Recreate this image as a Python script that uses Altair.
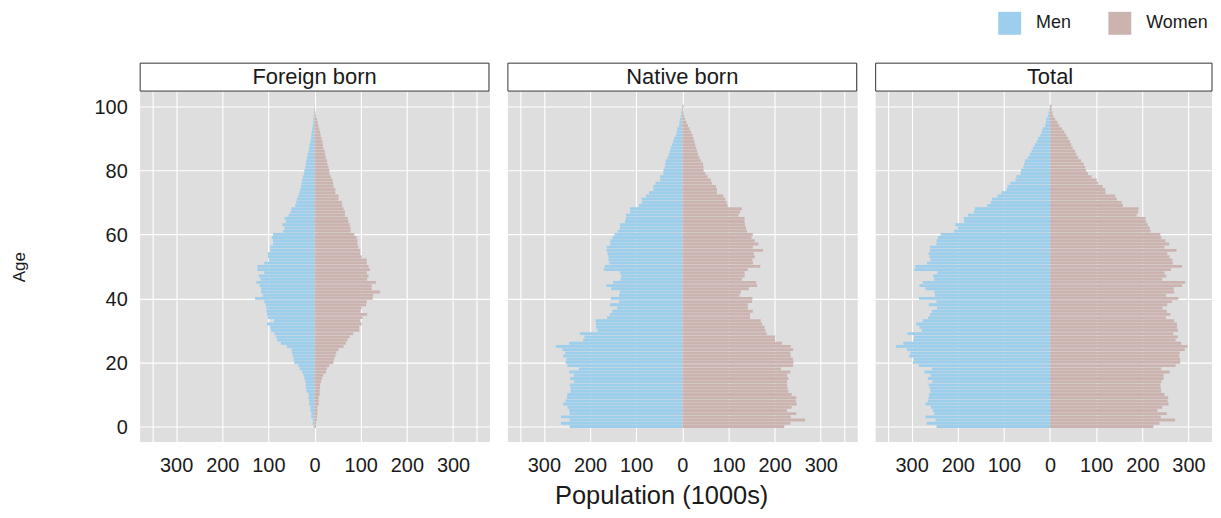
import altair as alt
import pandas as pd

# ---------------- data (population in 1000s, ages 0..100) ----------------
ages = list(range(101))

foreign_men = [2, 4, 4, 7, 7, 9, 9, 12, 12, 13,
               13, 17, 19, 19, 20, 22, 24, 27, 32, 35,
               44, 45, 47, 49, 50, 60, 73, 81, 83, 87,
               94, 96, 103, 88, 101, 103, 104, 104, 106, 109,
               129, 112, 116, 116, 119, 126, 117, 121, 109, 124,
               124, 109, 99, 101, 101, 96, 96, 90, 90, 92,
               90, 68, 65, 70, 62, 65, 56, 52, 50, 42,
               40, 38, 35, 33, 31, 29, 28, 27, 25, 23,
               22, 20, 19, 18, 16, 15, 13, 12, 11, 9,
               8, 7, 6, 5, 4, 3, 3, 1.5, 1, 0.5, 0.3]

foreign_women = [3, 3, 5, 5, 6, 6, 6, 9, 9, 9,
                 11, 11, 12, 12, 14, 16, 19, 25, 27, 32,
                 41, 42, 45, 47, 52, 63, 68, 71, 76, 84,
                 97, 97, 102, 99, 104, 114, 100, 102, 112, 113,
                 126, 127, 142, 124, 124, 133, 114, 117, 113, 120,
                 117, 113, 113, 102, 99, 99, 95, 93, 93, 91,
                 86, 78, 78, 76, 73, 72, 66, 66, 63, 60,
                 59, 52, 52, 45, 45, 41, 40, 39, 35, 32,
                 32, 30, 28, 27, 24, 23, 22, 19, 18, 17,
                 15, 13, 12, 10, 8, 7, 5, 3, 2, 1, 0.5]

native_men = [244, 263, 244, 263, 244, 245, 249, 258, 253, 250,
              249, 242, 242, 244, 235, 243, 235, 245, 224, 249,
              253, 251, 258, 254, 260, 274, 245, 215, 212, 222,
              184, 187, 187, 188, 163, 157, 152, 141, 157, 137,
              155, 137, 135, 154, 164, 150, 134, 132, 135, 170,
              168, 158, 160, 160, 162, 164, 164, 156, 156, 151,
              147, 140, 135, 135, 124, 122, 122, 113, 113, 94,
              88, 88, 79, 72, 63, 63, 58, 48, 48, 41,
              41, 38, 37, 36, 32, 29, 27, 25, 22, 20,
              18, 14, 12, 11, 7, 6, 5, 3, 2, 1, 0.5]

native_women = [221, 234, 266, 235, 247, 227, 237, 248, 246, 247,
                237, 230, 228, 227, 227, 230, 227, 234, 214, 240,
                241, 240, 235, 234, 240, 235, 216, 201, 201, 183,
                180, 178, 173, 170, 147, 147, 153, 142, 142, 151,
                152, 124, 127, 144, 162, 160, 129, 135, 135, 142,
                169, 153, 152, 157, 155, 175, 153, 165, 157, 150,
                153, 140, 138, 136, 135, 135, 122, 125, 129, 98,
                96, 93, 89, 75, 75, 73, 64, 62, 55, 50,
                46, 46, 45, 40, 37, 34, 32, 30, 28, 26,
                24, 22, 19, 16, 12, 9, 6, 4, 3, 2, 3]

panels = ["Foreign born", "Native born", "Total"]
sexes = ["Men", "Women"]
sex_colors = ["#9dceeb", "#cbb4b0"]
x_ticks = [-350, -300, -200, -100, 0, 100, 200, 300, 350]
y_ticks = [0, 20, 40, 60, 80, 100]

total_men = [f + n for f, n in zip(foreign_men, native_men)]
total_women = [f + n for f, n in zip(foreign_women, native_women)]

rows = []
for name, men, women in [("Foreign born", foreign_men, foreign_women),
                         ("Native born", native_men, native_women),
                         ("Total", total_men, total_women)]:
    for a, m, w in zip(ages, men, women):
        rows.append({"panel": name, "sex": "Men", "age": a, "value": -m})
        rows.append({"panel": name, "sex": "Women", "age": a, "value": w})
df = pd.DataFrame(rows)

# ---------------- layout constants ----------------
W = 351          # panel width (px)
W3 = 338         # last panel is cut at the right edge of the picture
H = 380          # strip + panel height (px)
STRIP = 28       # strip height
TOP = 29         # where the grey plotting region starts
PX_PER_YEAR = (H - TOP) / (104.6 + 4.66)
Y_DOMAIN = [-4.66, 104.6 + TOP / PX_PER_YEAR]
PX_PER_UNIT = W / 758
FONT = "Liberation Sans"
TXT = "#1a1a1a"

legend = alt.Legend(title=None, orient="none", legendX=861.5, legendY=-51,
                    direction="horizontal", symbolType="square", symbolSize=529,
                    symbolStrokeWidth=0, labelFontSize=18, labelOffset=15,
                    columnPadding=36.5, padding=0, labelColor=TXT, labelFont=FONT)


def make_panel(idx, name, width, xdom):
    label_expr = "abs(datum.value) == 350 ? '' : format(abs(datum.value), 'd')"
    if idx == 1:
        xaxis = alt.Axis(values=x_ticks, labelExpr=label_expr, grid=True,
                         gridColor="white", gridWidth=1.1, ticks=False, domain=False,
                         labelFontSize=20, labelPadding=14.5, labelColor=TXT,
                         title="Population (1000s)", titleFontSize=25.5,
                         titleFontWeight="normal", titleColor=TXT,
                         titleX=154.3, titleY=62.5, titleBaseline="alphabetic",
                         titleAlign="center")
    else:
        xaxis = alt.Axis(values=x_ticks, labelExpr=label_expr, grid=True,
                         gridColor="white", gridWidth=1.1, ticks=False, domain=False,
                         labelFontSize=20, labelPadding=14.5, labelColor=TXT,
                         title=None)
    if idx == 0:
        yaxis = alt.Axis(values=y_ticks, grid=True, gridColor="white", gridWidth=1.1,
                         ticks=False, domain=False, labelFontSize=20,
                         labelPadding=12.4, labelColor=TXT, labelOffset=1,
                         title="Age", titleFontSize=17, titleFontWeight="normal",
                         titleColor=TXT, titleAngle=270, titleX=-115.7,
                         titleY=204.7, titleBaseline="alphabetic",
                         titleAlign="center")
    else:
        yaxis = alt.Axis(values=y_ticks, grid=True, gridColor="white", gridWidth=1.1,
                         ticks=False, domain=False, labels=False, title=None)

    bars = alt.Chart(df).transform_filter(
        alt.datum.panel == name
    ).transform_calculate(
        y0="datum.age - 0.45", y1="datum.age + 0.45", zero="0"
    ).mark_rect(strokeWidth=0).encode(
        x=alt.X("value:Q", scale=alt.Scale(domain=xdom, nice=False, zero=False),
                axis=xaxis),
        x2="zero:Q",
        y=alt.Y("y0:Q", scale=alt.Scale(domain=Y_DOMAIN, nice=False, zero=False),
                axis=yaxis),
        y2="y1:Q",
        color=alt.Color("sex:N", scale=alt.Scale(domain=sexes, range=sex_colors),
                        legend=legend),
    )

    strip_data = pd.DataFrame({"panel": [name]})
    x_right = width - 0.5 if idx < 2 else width
    strip_bg = alt.Chart(strip_data).mark_rect(fill="white", strokeWidth=0).encode(
        x=alt.value(0), x2=alt.value(width), y=alt.value(0), y2=alt.value(TOP)
    )
    strip_box = alt.Chart(strip_data).mark_rect(
        fill="white", stroke="#333333", strokeWidth=1
    ).encode(
        x=alt.value(0.5), x2=alt.value(x_right), y=alt.value(0.5), y2=alt.value(STRIP + 0.5)
    )
    strip_text = alt.Chart(strip_data).mark_text(
        fontSize=22, font=FONT, color=TXT, baseline="middle", align="center"
    ).encode(
        x=alt.value(W / 2), y=alt.value(14), text="panel:N"
    )
    return alt.layer(bars, strip_bg, strip_box, strip_text).properties(
        width=width, height=H
    )


p1 = make_panel(0, "Foreign born", W, [-379, 379])
p2 = make_panel(1, "Native born", W, [-379, 379])
p3 = make_panel(2, "Total", W3, [-379, -379 + W3 / PX_PER_UNIT])

chart = alt.hconcat(p1, p2, p3, spacing=16).resolve_scale(
    x="independent", y="independent", color="shared"
).properties(
    padding={"left": 1.1, "top": 3, "right": 0, "bottom": 0}
).configure(
    font=FONT
).configure_view(
    fill="#dedede", stroke="transparent"
)

chart.save("out.html", embed_options={"renderer": "svg", "actions": False})
